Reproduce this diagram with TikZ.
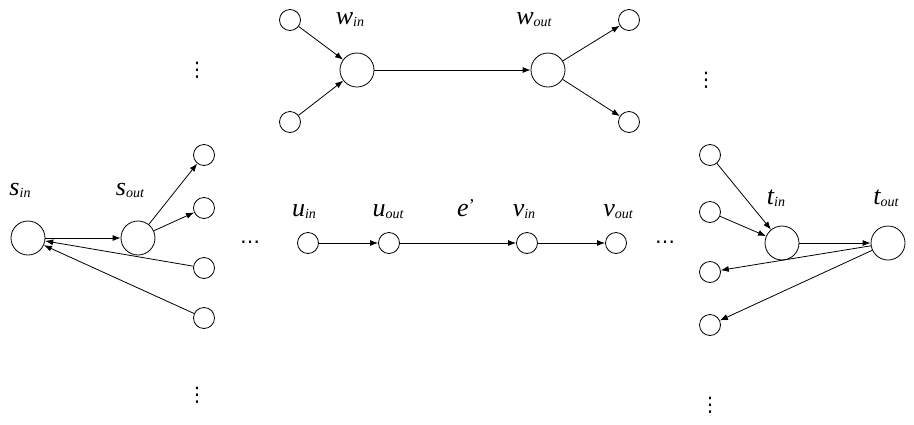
\documentclass[tikz,border=0pt]{standalone}
\usepackage{fontspec}
\setmainfont{Liberation Serif}
\newfontfamily\dv{DejaVu Sans}
\usetikzlibrary{arrows.meta}
\newcommand{\lab}[2]{{\fontsize{26}{26}\selectfont\itshape #1}{\fontsize{14}{14}\selectfont\itshape\raisebox{-2pt}{#2}}}
\begin{document}
\begin{tikzpicture}[x=1pt,y=-1pt,
  big/.style={circle,draw,line width=0.8pt,minimum size=34pt,inner sep=0pt},
  sm/.style={circle,draw,line width=0.8pt,minimum size=21pt,inner sep=0pt},
  arr/.style={-{Latex[length=8pt,width=6pt]},line width=0.8pt},
  lbl/.style={inner sep=0pt},
  dots/.style={inner sep=0pt,font=\dv\fontsize{20}{20}\selectfont}]
\useasboundingbox (0,0) rectangle (914,424);
% s side
\node[big] (sin) at (28,238) {};
\node[big] (sout) at (138,238) {};
\node[sm] (a1) at (204,155) {};
\node[sm] (a2) at (204,208) {};
\node[sm] (a3) at (204,268) {};
\node[sm] (a4) at (204,318) {};
\draw[arr] (sin) -- (sout);
\draw[arr] (sout) -- (a1);
\draw[arr] (sout) -- (a2);
\draw[arr] (a3) -- (sin);
\draw[arr] (a4) -- (sin);
\node[lbl] (lsin) at (20,190) {\lab{s}{in}};
\node[lbl] (lsout) at (130,190) {\lab{s}{out}};
\node[dots] (d1) at (197,70) {⋮};
\node[dots] (d2) at (197,395) {⋮};
\node[dots] (h1) at (250,242) {…};
% w
\node[big] (win) at (357,70) {};
\node[big] (wout) at (548,70) {};
\node[sm] (b1) at (290,20) {};
\node[sm] (b2) at (290,122) {};
\node[sm] (b3) at (629,20) {};
\node[sm] (b4) at (629,122) {};
\draw[arr] (b1) -- (win);
\draw[arr] (b2) -- (win);
\draw[arr] (win) -- (wout);
\draw[arr] (wout) -- (b3);
\draw[arr] (wout) -- (b4);
\node[lbl] (lwin) at (350,20) {\lab{w}{in}};
\node[lbl] (lwout) at (534,20) {\lab{w}{out}};
% u v
\node[sm] (uin) at (308,243) {};
\node[sm] (uout) at (389,243) {};
\node[sm] (vin) at (527,243) {};
\node[sm] (vout) at (616,243) {};
\draw[arr] (uin) -- (uout);
\draw[arr] (uout) -- (vin);
\draw[arr] (vin) -- (vout);
\node[lbl] (le) at (466,208) {{\fontsize{26}{26}\selectfont\itshape e}{\fontsize{18}{18}\selectfont\raisebox{5pt}{'}}};
\node[lbl] (luin) at (304,212) {\lab{u}{in}};
\node[lbl] (luout) at (388,212) {\lab{u}{out}};
\node[lbl] (lvin) at (524,212) {\lab{v}{in}};
\node[lbl] (lvout) at (618,212) {\lab{v}{out}};
\node[dots] (h2) at (665,242) {…};
% t
\node[big] (tin) at (782,243) {};
\node[big] (tout) at (888,243) {};
\node[sm] (c1) at (710,155) {};
\node[sm] (c2) at (710,212) {};
\node[sm] (c3) at (710,272) {};
\node[sm] (c4) at (710,325) {};
\draw[arr] (c1) -- (tin);
\draw[arr] (c2) -- (tin);
\draw[arr] (tin) -- (tout);
\draw[arr] (tout) -- (c3);
\draw[arr] (tout) -- (c4);
\node[lbl] (ltin) at (776,198) {\lab{t}{in}};
\node[lbl] (ltout) at (886,198) {\lab{t}{out}};
\node[dots] (d3) at (706,80) {⋮};
\node[dots] (d4) at (710,405) {⋮};
\end{tikzpicture}
\end{document}
